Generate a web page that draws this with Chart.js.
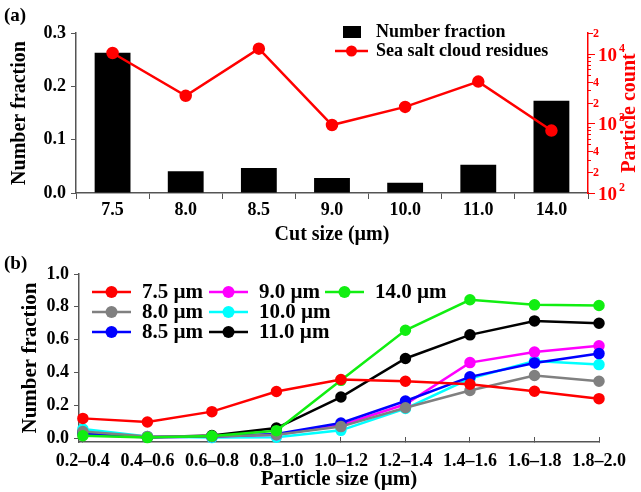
<!DOCTYPE html>
<html>
<head>
<meta charset="utf-8">
<script src="https://cdn.jsdelivr.net/npm/chart.js@4.4.1/dist/chart.umd.min.js"></script>
<style>
  body { margin: 0; background: #fff; }
  #wrap { position: relative; width: 641px; height: 492px; overflow: hidden; }
  canvas { position: absolute; left: 0; }
  #chartA { top: 0; }
  #chartB { top: 250px; }
  .panel { position: absolute; font: bold 19px 'Liberation Serif', 'Times New Roman', serif; color: #000; }
</style>
</head>
<body>
<div id="wrap">
  <canvas id="chartA" width="641" height="250"></canvas>
  <canvas id="chartB" width="641" height="242"></canvas>
  <div class="panel" style="left:4px; top:4px;">(a)</div>
  <div class="panel" style="left:4px; top:252px;">(b)</div>
</div>
<script>
// --- (a) datos ---
const cutSizes = ["7.5", "8.0", "8.5", "9.0", "10.0", "11.0", "14.0"];
const numberFraction = [0.263, 0.041, 0.047, 0.028, 0.019, 0.053, 0.173];
const particleCount = [10300, 2500, 11900, 950, 1730, 4000, 790];
const fractionTicksA = [0, 0.1, 0.2, 0.3];
const countTicks = [100, 200, 400, 1000, 2000, 4000, 10000, 20000];

// --- (b) datos ---
const sizeBins = ["0.2–0.4", "0.4–0.6", "0.6–0.8", "0.8–1.0", "1.0–1.2", "1.2–1.4", "1.4–1.6", "1.6–1.8", "1.8–2.0"];
const cut75 = [0.12, 0.098, 0.161, 0.284, 0.357, 0.346, 0.328, 0.285, 0.24];
const cut80 = [0.04, 0.01, 0.01, 0.02, 0.07, 0.185, 0.29, 0.381, 0.346];
const cut85 = [0.03, 0.005, 0.01, 0.025, 0.092, 0.226, 0.373, 0.458, 0.515];
const cut90 = [0.02, 0.005, 0.01, 0.02, 0.078, 0.206, 0.46, 0.524, 0.562];
const cut100 = [0.055, 0.01, 0.003, 0.005, 0.047, 0.18, 0.363, 0.47, 0.448];
const cut110 = [0.035, 0.005, 0.015, 0.061, 0.25, 0.485, 0.629, 0.714, 0.7];
const cut140 = [0.014, 0.003, 0.012, 0.045, 0.352, 0.657, 0.843, 0.812, 0.808];
const fractionTicksB = [0, 0.2, 0.4, 0.6, 0.8, 1.0];

const FONT = "'Liberation Serif', 'Times New Roman', serif";
const AXIS = "#555";
const RED = "#ff0000";

function font(size) {
  return { family: FONT, size: size, weight: "bold" };
}

// leyenda de (a), dentro del área
const legendA = {
  id: "legendA",
  afterDraw(chart) {
    const ctx = chart.ctx;
    const bar = chart.data.datasets[0];
    const line = chart.data.datasets[1];
    ctx.save();
    ctx.font = "bold 18px " + FONT;
    ctx.textBaseline = "middle";
    ctx.fillStyle = "#000";
    ctx.fillRect(343, 26, 18, 12);
    ctx.fillText(bar.label, 376, 32);
    ctx.strokeStyle = line.borderColor;
    ctx.lineWidth = 2.5;
    ctx.beginPath();
    ctx.moveTo(335, 51);
    ctx.lineTo(368, 51);
    ctx.stroke();
    ctx.fillStyle = line.borderColor;
    ctx.beginPath();
    ctx.arc(351.5, 51, 5.5, 0, Math.PI * 2);
    ctx.fill();
    ctx.fillStyle = "#000";
    ctx.fillText(line.label, 376, 51);
    ctx.restore();
  },
};

// eje derecho logarítmico: marcas, etiquetas y título
const countAxis = {
  id: "countAxis",
  afterDraw(chart) {
    const s = chart.scales.yCount;
    const ctx = chart.ctx;
    const x = s.left;
    ctx.save();
    ctx.strokeStyle = RED;
    ctx.fillStyle = RED;
    ctx.lineWidth = 1;
    // marcas menores
    for (let d = 100; d < s.max; d *= 10) {
      for (let m = 2; m <= 9; m++) {
        const v = d * m;
        if (v > s.max) break;
        const y = Math.round(s.getPixelForValue(v)) + 0.5;
        ctx.beginPath();
        ctx.moveTo(x, y);
        ctx.lineTo(x + 3, y);
        ctx.stroke();
      }
    }
    ctx.textBaseline = "middle";
    countTicks.forEach((v) => {
      const y = Math.round(s.getPixelForValue(v)) + 0.5;
      const exp = Math.log10(v);
      const isPow = Math.abs(exp - Math.round(exp)) < 1e-9;
      ctx.beginPath();
      ctx.moveTo(x, y);
      ctx.lineTo(x + (isPow ? 7 : 5), y);
      ctx.stroke();
      if (isPow) {
        ctx.font = "bold 19px " + FONT;
        ctx.textAlign = "left";
        ctx.fillText("10", x + 10, y + 2);
        const w = ctx.measureText("10").width;
        ctx.font = "bold 12px " + FONT;
        ctx.fillText(String(Math.round(exp)), x + 12 + w, y - 6);
      } else {
        ctx.font = "bold 12px " + FONT;
        ctx.textAlign = "left";
        ctx.fillText(String(Math.round(v / Math.pow(10, Math.floor(exp)))), x + 5, y);
      }
    });
    // título
    ctx.font = "bold 20px " + FONT;
    ctx.textAlign = "center";
    ctx.translate(630, (s.top + s.bottom) / 2);
    ctx.rotate(-Math.PI / 2);
    ctx.fillText("Particle count", 0, 0);
    ctx.restore();
  },
};

new Chart(document.getElementById("chartA"), {
  data: {
    labels: cutSizes,
    datasets: [
      {
        type: "bar",
        label: "Number fraction",
        data: numberFraction,
        yAxisID: "y",
        backgroundColor: "#000",
        barPercentage: 0.49,
        categoryPercentage: 1,
        order: 1,
      },
      {
        type: "line",
        label: "Sea salt cloud residues",
        data: particleCount,
        yAxisID: "yCount",
        borderColor: RED,
        backgroundColor: RED,
        borderWidth: 2.5,
        pointRadius: 5,
        pointHoverRadius: 5,
        clip: false,
        order: 0,
      },
    ],
  },
  options: {
    responsive: false,
    animation: false,
    devicePixelRatio: 1,
    layout: { padding: { top: 33, left: 0, right: 0, bottom: 0 } },
    plugins: { legend: { display: false }, tooltip: { enabled: false } },
    scales: {
      x: {
        type: "category",
        grid: { drawOnChartArea: false, offset: true, tickLength: 6, color: AXIS },
        border: { color: AXIS, width: 1.5 },
        ticks: { font: font(18), color: "#000", padding: 1 },
        title: { display: true, text: "Cut size (µm)", font: font(20), color: "#000", padding: { top: 0, bottom: 3 } },
        afterFit(s) { s.height = 57; },
      },
      y: {
        position: "left",
        min: 0,
        max: 0.3,
        afterBuildTicks(s) { s.ticks = fractionTicksA.map((v) => ({ value: v })); },
        ticks: { font: font(18), color: "#000", padding: 5, callback: (v) => v.toFixed(1) },
        grid: { drawOnChartArea: false, tickLength: 5, color: AXIS },
        border: { color: AXIS, width: 1.5 },
        title: { display: true, text: "Number fraction", font: font(20), color: "#000", padding: { top: 8 } },
        afterFit(s) { s.width = 76; },
      },
      yCount: {
        type: "logarithmic",
        position: "right",
        min: 100,
        max: 20000,
        ticks: { display: false },
        grid: { drawOnChartArea: false, drawTicks: false },
        border: { color: RED, width: 1.5 },
        afterFit(s) { s.width = 53; },
      },
    },
  },
  plugins: [legendA, countAxis],
});

// leyenda de (b): tres columnas
const legendCols = [92, 209, 325];
const legendB = {
  id: "legendB",
  afterDraw(chart) {
    const ctx = chart.ctx;
    ctx.save();
    ctx.font = "bold 21px " + FONT;
    ctx.textBaseline = "middle";
    ctx.textAlign = "left";
    chart.data.datasets.forEach((ds, i) => {
      const x0 = legendCols[Math.floor(i / 3)];
      const y = 42 + (i % 3) * 20;
      ctx.strokeStyle = ds.borderColor;
      ctx.lineWidth = 2.5;
      ctx.beginPath();
      ctx.moveTo(x0, y);
      ctx.lineTo(x0 + 39, y);
      ctx.stroke();
      ctx.fillStyle = ds.borderColor;
      ctx.beginPath();
      ctx.arc(x0 + 19.5, y, 6, 0, Math.PI * 2);
      ctx.fill();
      ctx.fillStyle = "#000";
      ctx.fillText(ds.label, x0 + 50, y + 1);
    });
    ctx.restore();
  },
};

const seriesB = [
  ["7.5 µm", cut75, "#ff0000"],
  ["8.0 µm", cut80, "#808080"],
  ["8.5 µm", cut85, "#0000ff"],
  ["9.0 µm", cut90, "#ff00ff"],
  ["10.0 µm", cut100, "#00ffff"],
  ["11.0 µm", cut110, "#000000"],
  ["14.0 µm", cut140, "#11ee11"],
];

new Chart(document.getElementById("chartB"), {
  type: "line",
  data: {
    datasets: seriesB.map(([label, values, color], i) => ({
      label: label,
      data: values.map((v, j) => ({ x: j, y: v })),
      borderColor: color,
      backgroundColor: color,
      borderWidth: 2.5,
      pointRadius: 4.5,
      pointHoverRadius: 4.5,
      clip: false,
      order: i === 0 ? 0 : i === 6 ? 1 : i + 1,
    })),
  },
  options: {
    responsive: false,
    animation: false,
    devicePixelRatio: 1,
    layout: { padding: { top: 24, left: 0, right: 42, bottom: 0 } },
    plugins: { legend: { display: false }, tooltip: { enabled: false } },
    scales: {
      x: {
        type: "linear",
        min: -0.06,
        max: 8,
        afterBuildTicks(s) { s.ticks = sizeBins.map((_, i) => ({ value: i })); },
        ticks: { font: font(18), color: "#000", padding: 14, callback: (v) => sizeBins[v] },
        grid: { drawOnChartArea: false, tickLength: -5, color: AXIS },
        border: { color: AXIS, width: 1.5 },
        title: { display: true, text: "Particle size (µm)", font: font(21), color: "#000", padding: { top: 0, bottom: 0 } },
        afterFit(s) { s.height = 50; },
      },
      y: {
        min: -0.024,
        max: 1.0,
        afterBuildTicks(s) { s.ticks = fractionTicksB.map((v) => ({ value: v })); },
        ticks: { font: font(18), color: "#000", padding: 5, callback: (v) => v.toFixed(1) },
        grid: { drawOnChartArea: false, tickLength: 5, color: AXIS },
        border: { color: AXIS, width: 1.5 },
        title: { display: true, text: "Number fraction", font: font(21), color: "#000", padding: { top: 18 } },
        afterFit(s) { s.width = 79; },
      },
    },
  },
  plugins: [legendB],
});
</script>
</body>
</html>
